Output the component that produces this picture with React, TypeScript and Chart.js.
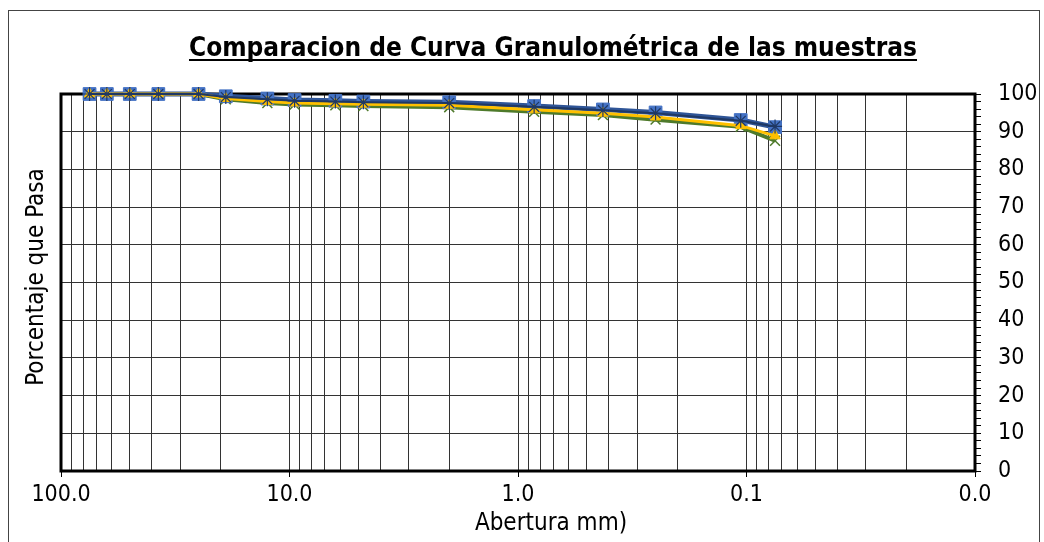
import { useEffect, useRef } from 'react';
import { Chart, registerables } from 'chart.js';

Chart.register(...registerables);

// Sieve openings (mm) and percent passing for each sample
const sieveSizes = [75, 63, 50, 37.5, 25, 19, 12.5, 9.5, 6.3, 4.75, 2.0, 0.85, 0.425, 0.25, 0.106, 0.075];
const muestraAzul = [100, 100, 100, 100, 100, 99.4, 98.8, 98.4, 98.2, 98.0, 97.8, 96.8, 95.9, 95.1, 93.1, 91.2];
const muestraOscura = [100, 100, 100, 100, 100, 99.2, 98.6, 98.2, 98.0, 97.8, 97.6, 96.6, 95.7, 94.9, 92.9, 91.4];
const muestraAmarilla = [100, 100, 100, 100, 100, 98.8, 98.0, 97.6, 97.4, 97.3, 97.0, 95.8, 94.9, 93.9, 91.6, 88.9];
const muestraVerde = [100, 100, 100, 100, 100, 98.6, 97.6, 97.2, 97.0, 96.8, 96.5, 95.3, 94.4, 93.2, 91.3, 87.6];

const xDecades = [100, 10, 1, 0.1, 0.01];
const xDecadeLabels = ['100.0', '10.0', '1.0', '0.1', '0.0'];
const yLabelValues = [0, 10, 20, 30, 40, 50, 60, 70, 80, 90, 100];

const titleText = 'Comparacion de Curva Granulométrica de las muestras';
const xTitle = 'Abertura mm)';
const yTitle = 'Porcentaje que Pasa';

const FONT = '"DejaVu Sans Condensed", "DejaVu Sans", sans-serif';

const toPoints = (vals: number[]) => sieveSizes.map((x, i) => ({ x, y: vals[i] }));

const isDecade = (v: number) => xDecades.some((d) => Math.abs(v - d) / d < 1e-6);

const decorations = {
  id: 'decorations',
  beforeDraw(chart: any) {
    const { ctx, width, height } = chart;
    ctx.save();
    ctx.fillStyle = '#ffffff';
    ctx.fillRect(0, 0, width, height);
    ctx.strokeStyle = '#444444';
    ctx.lineWidth = 1;
    ctx.strokeRect(8.5, 10.5, 1031, height + 10);
    ctx.restore();
  },
  beforeDatasetsDraw(chart: any) {
    const { ctx, chartArea } = chart;
    const { left, right, top, bottom } = chartArea;
    ctx.save();
    ctx.strokeStyle = '#000000';
    ctx.lineWidth = 3;
    ctx.strokeRect(left, top, right - left, bottom - top);
    ctx.restore();
  },
  afterDraw(chart: any) {
    const { ctx, chartArea } = chart;
    ctx.save();
    ctx.fillStyle = '#000000';
    // Title, bold and underlined
    ctx.font = `bold 26px ${FONT}`;
    ctx.textAlign = 'center';
    ctx.textBaseline = 'alphabetic';
    const cx = 553;
    const w = ctx.measureText(titleText).width;
    ctx.fillText(titleText, cx, 56);
    ctx.fillRect(cx - w / 2, 59, w, 2);

    // Axis titles
    ctx.font = `24px ${FONT}`;
    ctx.textBaseline = 'middle';
    ctx.fillText(xTitle, 551, 524);
    ctx.translate(37, 277);
    ctx.rotate(-Math.PI / 2);
    ctx.fillText(yTitle, 0, 0);
    ctx.restore();
  },
};

export default function App() {
  const canvasRef = useRef<HTMLCanvasElement | null>(null);

  useEffect(() => {
    document.body.style.margin = '0';
    const canvas = canvasRef.current;
    if (!canvas) return;

    const lineDefaults = {
      showLine: true,
      clip: false as any,
      tension: 0,
    };

    const chart = new Chart(canvas, {
      type: 'scatter',
      data: {
        datasets: [
          {
            ...lineDefaults,
            label: 'Muestra 4',
            data: toPoints(muestraOscura),
            borderColor: '#1F3864',
            borderWidth: 2,
            pointStyle: 'star',
            pointRadius: 7,
            pointBorderColor: '#1F3864',
            pointBackgroundColor: '#1F3864',
            pointBorderWidth: 1.2,
            order: 1,
          },
          {
            ...lineDefaults,
            label: 'Muestra 1',
            data: toPoints(muestraAzul),
            borderColor: '#2F5597',
            borderWidth: 5,
            pointStyle: 'rect',
            pointRadius: 9,
            pointBorderColor: '#4472C4',
            pointBackgroundColor: '#4472C4',
            pointBorderWidth: 1,
            order: 3,
          },
          {
            ...lineDefaults,
            label: 'Muestra 2',
            data: toPoints(muestraAmarilla),
            borderColor: '#FFC000',
            borderWidth: 3,
            pointStyle: 'triangle',
            pointRadius: 6,
            pointBorderColor: '#FFC000',
            pointBackgroundColor: '#FFC000',
            pointBorderWidth: 1,
            order: 2,
          },
          {
            ...lineDefaults,
            label: 'Muestra 3',
            data: toPoints(muestraVerde),
            borderColor: '#4E7A2B',
            borderWidth: 4,
            pointStyle: 'crossRot',
            pointRadius: 7,
            pointBorderColor: '#4E7A2B',
            pointBorderWidth: 1.5,
            order: 4,
          },
        ],
      },
      options: {
        responsive: false,
        animation: false,
        events: [],
        layout: { padding: { left: 61, top: 94, right: 0, bottom: 0 } },
        plugins: {
          legend: { display: false },
          title: { display: false },
          tooltip: { enabled: false },
        },
        scales: {
          x: {
            type: 'logarithmic',
            reverse: true,
            min: 0.01,
            max: 100,
            afterFit: (scale: any) => {
              scale.height = 71;
            },
            afterBuildTicks: (scale: any) => {
              const ticks: { value: number }[] = [];
              for (let e = -2; e <= 1; e++) {
                for (let m = 1; m <= 9; m++) {
                  ticks.push({ value: m * Math.pow(10, e) });
                }
              }
              ticks.push({ value: 100 });
              scale.ticks = ticks;
            },
            border: { display: false },
            grid: {
              color: '#333333',
              lineWidth: 1,
              tickLength: 6,
              tickColor: (ctx: any) => (ctx.tick && isDecade(ctx.tick.value) ? '#000000' : 'rgba(0,0,0,0)'),
              tickWidth: 1,
            },
            ticks: {
              autoSkip: false,
              maxRotation: 0,
              padding: 4,
              color: '#000000',
              font: { family: FONT, size: 23 },
              callback: (value: any) => {
                const idx = xDecades.findIndex((d) => Math.abs(Number(value) - d) / d < 1e-6);
                return idx >= 0 ? xDecadeLabels[idx] : '';
              },
            },
          },
          y: {
            type: 'linear',
            position: 'right',
            min: 0,
            max: 100,
            afterFit: (scale: any) => {
              scale.width = 69;
            },
            border: { display: false },
            grid: {
              color: (ctx: any) =>
                ctx.tick && yLabelValues.includes(ctx.tick.value) ? '#333333' : 'rgba(0,0,0,0)',
              lineWidth: 1,
              tickLength: 6,
              tickColor: '#000000',
            },
            ticks: {
              stepSize: 2,
              autoSkip: false,
              padding: 17,
              color: '#000000',
              font: { family: FONT, size: 23 },
              callback: (value: any) => (yLabelValues.includes(Number(value)) ? String(value) : ''),
            },
          },
        },
      },
      plugins: [decorations],
    });

    return () => {
      chart.destroy();
    };
  }, []);

  return <canvas ref={canvasRef} width={1044} height={542} style={{ display: 'block' }} />;
}
